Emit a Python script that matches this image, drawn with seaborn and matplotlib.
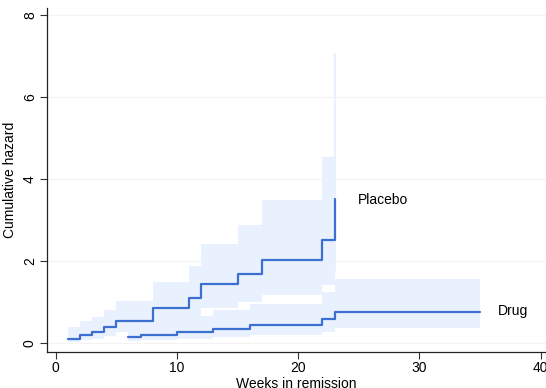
import numpy as np
import pandas as pd
import matplotlib
matplotlib.use("Agg")
import matplotlib.pyplot as plt
import seaborn as sns

# Nelson-Aalen cumulative hazard
placebo_t = [1, 2, 3, 4, 5, 8, 11, 12, 15, 17, 22, 23]
placebo_h = [0.095, 0.200, 0.259, 0.384, 0.527, 0.861, 1.111, 1.444, 1.694, 2.027, 2.527, 3.527]
placebo_lo = [0.024, 0.075, 0.108, 0.182, 0.272, 0.494, 0.653, 0.859, 0.998, 1.173, 1.407, 1.758]
placebo_hi = [0.381, 0.535, 0.625, 0.810, 1.020, 1.499, 1.889, 2.426, 2.874, 3.502, 4.538, 7.076]

drug_t = [6, 7, 10, 13, 16, 22, 23, 35]
drug_h = [0.143, 0.202, 0.268, 0.352, 0.443, 0.585, 0.752, 0.752]
drug_lo = [0.046, 0.075, 0.111, 0.155, 0.206, 0.276, 0.363, 0.363]
drug_hi = [0.443, 0.540, 0.651, 0.799, 0.952, 1.241, 1.558, 1.558]

line_col = "#3b6fd1"
band_col = "#e8f1fd"

sns.set_style("white")
plt.rcParams["font.family"] = ["Liberation Sans", "DejaVu Sans"]
plt.rcParams["text.color"] = "black"
plt.rcParams["axes.labelcolor"] = "black"
plt.rcParams["xtick.color"] = "black"
plt.rcParams["ytick.color"] = "black"

fig = plt.figure(figsize=(5.46, 3.88), dpi=100)
ax = fig.add_axes([0.0855, 0.0936, 0.9145, 0.885])

for yv in [0, 2, 4, 6, 8]:
    ax.axhline(yv, color="#f3f3f3", lw=0.8, zorder=0)

# confidence bands
ax.fill_between(placebo_t, placebo_lo, placebo_hi, step="post", color=band_col, lw=0, zorder=1)
ax.fill_between(drug_t, drug_lo, drug_hi, step="post", color=band_col, lw=0, zorder=1)
ax.vlines(placebo_t[-1], placebo_lo[-1], placebo_hi[-1], color=band_col, lw=1.5, zorder=1)

df = pd.concat([
    pd.DataFrame({"t": placebo_t, "h": placebo_h, "grp": "Placebo"}),
    pd.DataFrame({"t": drug_t, "h": drug_h, "grp": "Drug"}),
])
sns.lineplot(data=df, x="t", y="h", hue="grp", estimator=None,
             palette={"Placebo": line_col, "Drug": line_col},
             drawstyle="steps-post", lw=1.6, legend=False, ax=ax, zorder=3)

ax.text(24.9, 3.5, "Placebo", fontsize=10, va="center", ha="left")
ax.text(36.5, 0.78, "Drug", fontsize=10, va="center", ha="left")

ax.set_xlim(-0.75, 40.45)
ax.set_ylim(-0.21, 8.17)
ax.set_xticks([0, 10, 20, 30, 40])
ax.set_yticks([0, 2, 4, 6, 8])
ax.set_xlabel("Weeks in remission", fontsize=10, labelpad=1)
ax.set_ylabel("Cumulative hazard", fontsize=10, labelpad=4)
ax.tick_params(axis="both", direction="out", length=5, width=0.8, color="#333333",
               labelsize=10, pad=2, bottom=True, left=True)
for lab in ax.get_yticklabels():
    lab.set_rotation(90)
    lab.set_va("center")
sns.despine(ax=ax)
for s in ["left", "bottom"]:
    ax.spines[s].set_color("#222222")
    ax.spines[s].set_linewidth(0.9)

fig.savefig("out.png", dpi=100)
